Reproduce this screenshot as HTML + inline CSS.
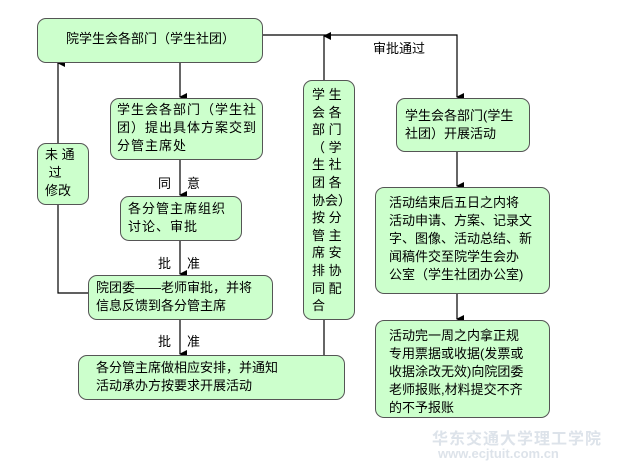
<!DOCTYPE html>
<html><head><meta charset="utf-8"><style>
body{margin:0;width:625px;height:470px;background:#fff;position:relative;overflow:hidden;font-family:"Liberation Sans","Noto Sans CJK SC",sans-serif;font-size:13px;color:#000}
.b{position:absolute;background:#ccffcc;border:1.5px solid #555;border-radius:9px;box-sizing:border-box;line-height:18px}
.t{position:absolute;white-space:nowrap}
svg{position:absolute;left:0;top:0}
</style></head><body>
<svg width="625" height="470">
<defs><marker id="a" markerWidth="8" markerHeight="8" refX="4" refY="7" orient="auto" markerUnits="userSpaceOnUse"><path d="M0,0 L8,0 L4,8z" fill="#000" transform="rotate(0)"/></marker>
<marker id="u" markerWidth="8" markerHeight="8" refX="4" refY="1" orient="auto" markerUnits="userSpaceOnUse"><path d="M0,8 L8,8 L4,0z" fill="#000"/></marker></defs>
<g stroke="#000" stroke-width="1.2" fill="none">
<path d="M180 62V97" marker-end="url(#a)"/>
<path d="M180 159V195" marker-end="url(#a)"/>
<path d="M180 240V274" marker-end="url(#a)"/>
<path d="M180 320V354" marker-end="url(#a)"/>
<path d="M262 35H457V97" marker-end="url(#a)"/>
<path d="M457 151V186" marker-end="url(#a)"/>
<path d="M457 293V319" marker-end="url(#a)"/>
<path d="M324 80V36" marker-end="url(#u)"/>
<path d="M324 320V355"/>
<path d="M88 293H58V204"/>
<path d="M58 143V63" marker-end="url(#u)"/>
</g></svg>
<div class="b" style="left:37px;top:18px;width:226px;height:45px;padding:11px 0 0 28px">院学生会各部门（学生社团）</div>
<div class="b" style="left:110px;top:98px;width:153px;height:62px;padding:2px 0 0 6px;letter-spacing:1px">学生会各部门（学生社<br>团）提出具体方案交到<br>分管主席处</div>
<div class="b" style="left:37px;top:143px;width:52px;height:62px;padding:2px 0 0 7px">未 通<br>&nbsp;过<br>修改</div>
<div class="b" style="left:120px;top:196px;width:122px;height:45px;padding:3px 0 0 7px;letter-spacing:1px">各分管主席组织<br>讨论、审批</div>
<div class="b" style="left:88px;top:275px;width:185px;height:45px;padding:3px 0 0 7px">院团委——老师审批，并将<br>信息反馈到各分管主席</div>
<div class="b" style="left:78px;top:355px;width:267px;height:45px;padding:3px 0 0 17px">各分管主席做相应安排，并通知<br>活动承办方按要求开展活动</div>
<div class="b" style="left:303px;top:80px;width:52px;height:240px;padding:5px 0 0 8px;line-height:17.6px">学 生<br>会 各<br>部 门<br>（ 学<br>生 社<br>团 各<br>协会）<br>按 分<br>管 主<br>席 安<br>排 协<br>同 配<br>合</div>
<div class="b" style="left:396px;top:98px;width:134px;height:54px;padding:8px 0 0 8px">学生会各部门(学生<br>社团）开展活动</div>
<div class="b" style="left:375px;top:187px;width:175px;height:107px;padding:6px 0 0 13px">活动结束后五日之内将<br>活动申请、方案、记录文<br>字、图像、活动总结、新<br>闻稿件交至院学生会办<br>公室（学生社团办公室)</div>
<div class="b" style="left:375px;top:320px;width:175px;height:98px;padding:6px 0 0 13px">活动完一周之内拿正规<br>专用票据或收据(发票或<br>收据涂改无效)向院团委<br>老师报账,材料提交不齐<br>的不予报账</div>
<div class="t" style="left:373px;top:38px">审批通过</div>
<div class="t" style="left:158px;top:173px">同</div><div class="t" style="left:187px;top:173px">意</div>
<div class="t" style="left:158px;top:253px">批</div><div class="t" style="left:187px;top:253px">准</div>
<div class="t" style="left:158px;top:331px">批</div><div class="t" style="left:187px;top:331px">准</div>
<div class="t" style="left:432px;top:425px;font-size:16px;color:#dde3ea;font-weight:bold;letter-spacing:1px">华东交通大学理工学院</div>
<div class="t" style="left:438px;top:446px;font-size:13px;color:#dde3ea;font-weight:bold">www.ecjtuit.com.cn</div>
</body></html>
